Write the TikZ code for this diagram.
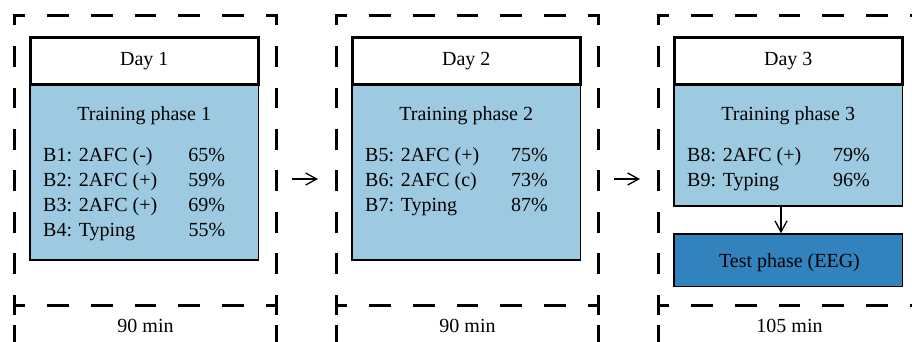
\documentclass[tikz,border=0pt]{standalone}
\usepackage{fontspec}
\setmainfont{Liberation Serif}
\usetikzlibrary{arrows.meta,calc}
\definecolor{lightblue}{HTML}{9ECAE1}
\definecolor{darkblue}{HTML}{3182BD}
\begin{document}
\begin{tikzpicture}[x=1pt,y=-1pt,
  font=\fontsize{20}{25}\selectfont,
  hside/.style={line width=3pt,line cap=rect,dash pattern=on 18.833pt off 24.833pt,dash phase=9.417pt},
  vside/.style={line width=3pt,line cap=rect,dash pattern=on 17.714pt off 23.714pt,dash phase=8.857pt},
  lside/.style={line width=3pt,line cap=rect,dash pattern=on 28.5pt off 13pt,dash phase=20pt},
  header/.style={draw,line width=3pt,fill=white,minimum width=228.5pt,minimum height=47.5pt,inner sep=0pt},
  phasebox/.style={draw,line width=1.5pt,fill=lightblue,minimum width=228.5pt,inner sep=0pt},
  testbox/.style={draw,line width=1.5pt,fill=darkblue,minimum width=228.5pt,minimum height=52.5pt,inner sep=0pt},
  txt/.style={inner sep=0pt},
  arr/.style={-{Straight Barb[length=11pt,width=12pt]},line width=1.3pt}]
\useasboundingbox (0,0) rectangle (912,341);
\clip (0,0) rectangle (912,341);
% dashed frames
\foreach \xl in {14.5,336.5,658.5}{
  \draw[hside] (\xl,15) -- (\xl+262,15);
  \draw[hside] (\xl,305) -- (\xl+262,305);
  \draw[vside] (\xl,15) -- (\xl,305);
  \draw[vside] (\xl+262,15) -- (\xl+262,305);
  \draw[lside] (\xl,305) -- (\xl,370);
  \draw[lside] (\xl+262,305) -- (\xl+262,370);
}
% phase boxes
\node[phasebox,minimum height=175.5pt] (b1) at (144.25,172.25) {};
\node[phasebox,minimum height=175.5pt] (b2) at (466.25,172.25) {};
\node[phasebox,minimum height=121.5pt] (b3) at (788.25,145.25) {};
\node[testbox] (t3) at (788.25,260.25) {};
% headers
\node[header] (h1) at (144.25,60.75) {Day 1};
\node[header] (h2) at (466.25,60.75) {Day 2};
\node[header] (h3) at (788.25,60.75) {Day 3};
% titles
\node[txt,anchor=base] (p1) at (144.25,120) {Training phase 1};
\node[txt,anchor=base] (p2) at (466.25,120) {Training phase 2};
\node[txt,anchor=base] (p3) at (788.25,120) {Training phase 3};
% block lists
\node[txt,anchor=base west] (l1) at (43,161.7) {\begin{tabular}[t]{@{}p{145.3pt}@{}l@{}}
B1: 2AFC (-) & 65\% \\
B2: 2AFC (+) & 59\% \\
B3: 2AFC (+) & 69\% \\
B4: Typing & 55\%
\end{tabular}};
\node[txt,anchor=base west] (l2) at (365,161.7) {\begin{tabular}[t]{@{}p{146pt}@{}l@{}}
B5: 2AFC (+) & 75\% \\
B6: 2AFC (c) & 73\% \\
B7: Typing & 87\%
\end{tabular}};
\node[txt,anchor=base west] (l3) at (687,161.7) {\begin{tabular}[t]{@{}p{146pt}@{}l@{}}
B8: 2AFC (+) & 79\% \\
B9: Typing & 96\%
\end{tabular}};
\node[txt,anchor=base] (tt) at (789.5,267) {Test phase (EEG)};
% durations
\node[txt,anchor=base] (m1) at (145.5,332) {90 min};
\node[txt,anchor=base] (m2) at (467.5,332) {90 min};
\node[txt,anchor=base] (m3) at (789.5,332) {105 min};
% arrows
\coordinate (a1s) at (292,179);
\coordinate (a1e) at (318,179);
\coordinate (a2s) at (614,179);
\coordinate (a2e) at (640,179);
\coordinate (dx) at (781,0);
\draw[arr] (a1s) -- (a1e);
\draw[arr] (a2s) -- (a2e);
\draw[arr] (b3.south -| dx) -- (t3.north -| dx);
\end{tikzpicture}
\end{document}
